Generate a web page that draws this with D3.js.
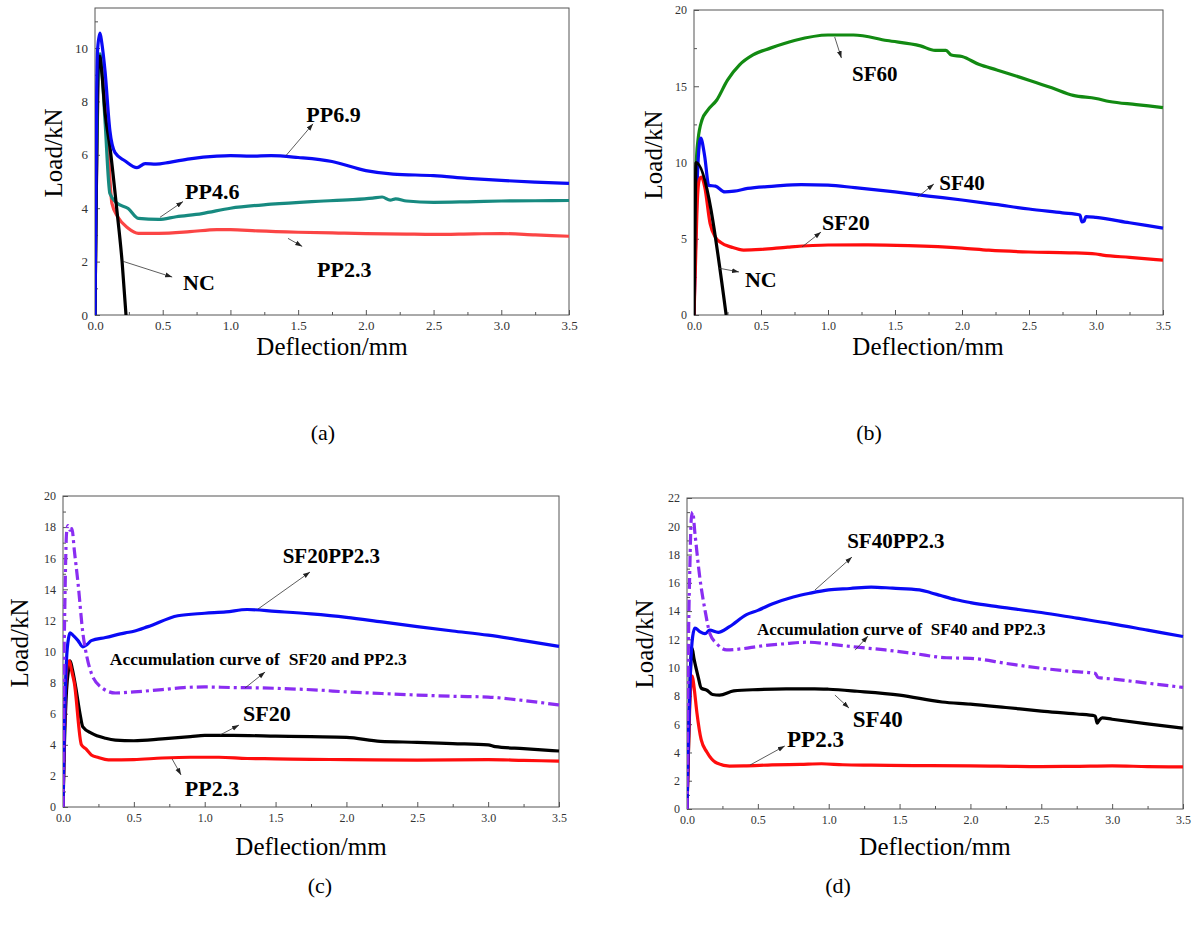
<!DOCTYPE html>
<html><head><meta charset="utf-8">
<script src="https://cdn.jsdelivr.net/npm/d3@7"></script>
<style>
body{margin:0;background:#fff}
svg{display:block}
text{font-family:"Liberation Serif","Times New Roman",serif}
</style>
</head><body>
<svg id="chart" width="1195" height="940"></svg>
<script>
// ---------------- DATA (deflection mm, load kN) ----------------
const xTicksMajor = [0,0.5,1.0,1.5,2.0,2.5,3.0,3.5];
const xTicksMinor = [0.25,0.75,1.25,1.75,2.25,2.75,3.25];

// Panel (a)
const a_PP23 = [[0,0],[0.008,4],[0.02,8],[0.035,9.6],[0.05,9.3],[0.07,8.2],[0.09,6.9],[0.125,4.18],[0.17,3.66],[0.245,3.25],[0.32,3.06],[0.47,3.06],[0.7,3.12],[0.9,3.2],[1.0,3.2],[1.2,3.15],[1.5,3.1],[1.8,3.07],[2.0,3.05],[2.3,3.03],[2.5,3.02],[2.8,3.04],[3.0,3.05],[3.25,3.0],[3.5,2.95]];
const a_PP46 = [[0,0],[0.008,4],[0.02,8.2],[0.037,9.78],[0.05,9.2],[0.074,7.28],[0.11,4.55],[0.16,4.2],[0.245,3.99],[0.32,3.62],[0.47,3.58],[0.6,3.68],[0.79,3.8],[1.0,4.0],[1.3,4.15],[1.6,4.25],[1.9,4.32],[2.05,4.38],[2.12,4.42],[2.18,4.3],[2.22,4.35],[2.3,4.27],[2.5,4.22],[2.75,4.24],[3.0,4.27],[3.25,4.28],[3.5,4.29]];
const a_NC = [[0,0],[0.01,5],[0.02,9],[0.035,9.7],[0.05,9.1],[0.074,7.6],[0.11,6.3],[0.16,4.0],[0.2,2.0],[0.229,0]];
const a_PP69 = [[0,0],[0.006,4],[0.012,8],[0.02,10.0],[0.037,10.56],[0.05,10.2],[0.074,9.14],[0.11,6.9],[0.148,6.08],[0.22,5.78],[0.31,5.52],[0.37,5.67],[0.45,5.65],[0.55,5.72],[0.7,5.85],[0.9,5.95],[1.0,5.97],[1.15,5.95],[1.3,5.97],[1.5,5.9],[1.75,5.75],[2.0,5.41],[2.2,5.28],[2.5,5.22],[2.75,5.12],[3.0,5.04],[3.25,4.98],[3.5,4.93]];

// Panel (b)
const b_SF60 = [[0,0],[0.005,4],[0.012,8.5],[0.02,10.5],[0.03,11.48],[0.06,12.8],[0.1,13.4],[0.17,14.1],[0.25,15.4],[0.34,16.4],[0.44,17.05],[0.57,17.5],[0.75,18.0],[1.0,18.36],[1.19,18.36],[1.44,18.0],[1.69,17.65],[1.8,17.35],[1.88,17.35],[1.92,17.05],[2.0,16.95],[2.13,16.42],[2.26,16.07],[2.5,15.4],[2.67,14.9],[2.83,14.4],[3.0,14.2],[3.1,14.0],[3.3,13.8],[3.5,13.6]];
const b_SF40 = [[0,0],[0.01,4],[0.025,9],[0.04,11.2],[0.05,11.6],[0.08,10.4],[0.11,8.5],[0.16,8.45],[0.23,8.07],[0.3,8.12],[0.4,8.3],[0.6,8.45],[0.8,8.55],[1.0,8.52],[1.2,8.35],[1.5,8.07],[1.75,7.8],[2.0,7.54],[2.25,7.25],[2.5,6.95],[2.75,6.7],[2.88,6.56],[2.895,6.1],[2.91,6.15],[2.925,6.45],[3.0,6.4],[3.25,6.05],[3.5,5.7]];
const b_SF20 = [[0,0],[0.01,3],[0.025,7.5],[0.04,8.9],[0.055,9.05],[0.08,8.4],[0.12,6.0],[0.16,5.1],[0.2,4.75],[0.28,4.45],[0.37,4.26],[0.5,4.3],[0.7,4.45],[1.0,4.59],[1.3,4.6],[1.6,4.55],[2.0,4.39],[2.2,4.25],[2.5,4.13],[2.8,4.08],[3.0,4.0],[3.05,3.93],[3.25,3.78],[3.5,3.6]];
const b_NC = [[0,0],[0.008,6],[0.015,10.0],[0.24,0]];

// Panel (c)
const c_SF20 = [[0,0],[0.01,4],[0.025,7.5],[0.04,8.9],[0.05,9.4],[0.065,8.9],[0.09,7.7],[0.12,6.0],[0.14,5.15],[0.2,4.75],[0.3,4.42],[0.37,4.3],[0.5,4.26],[0.7,4.38],[0.9,4.52],[1.0,4.6],[1.2,4.6],[1.5,4.56],[1.75,4.52],[2.0,4.48],[2.24,4.22],[2.5,4.16],[2.75,4.08],[3.0,4.0],[3.05,3.88],[3.25,3.75],[3.5,3.6]];
const c_PP23 = [[0,0],[0.008,4],[0.02,8],[0.035,9.3],[0.045,9.4],[0.06,8.8],[0.08,7.97],[0.13,4.0],[0.16,3.75],[0.2,3.35],[0.25,3.18],[0.32,3.03],[0.5,3.05],[0.7,3.15],[0.9,3.2],[1.1,3.2],[1.3,3.12],[1.5,3.1],[1.75,3.06],[2.0,3.05],[2.5,3.02],[3.0,3.05],[3.25,3.0],[3.5,2.95]];
const c_SF20PP23 = [[0,0],[0.01,5],[0.025,9.5],[0.04,10.9],[0.05,11.2],[0.075,11.0],[0.106,10.7],[0.14,10.3],[0.17,10.45],[0.2,10.7],[0.3,10.9],[0.44,11.2],[0.5,11.3],[0.6,11.6],[0.81,12.3],[1.0,12.46],[1.15,12.55],[1.3,12.7],[1.5,12.58],[1.75,12.42],[2.0,12.2],[2.25,11.9],[2.5,11.6],[2.75,11.32],[3.0,11.05],[3.25,10.7],[3.5,10.33]];
const c_Accum = [[0,0],[0.006,8],[0.015,14],[0.025,17.6],[0.035,18.1],[0.05,17.8],[0.063,17.9],[0.08,16.5],[0.106,14.4],[0.14,11.2],[0.17,9.6],[0.2,8.6],[0.27,7.7],[0.37,7.33],[0.5,7.4],[0.7,7.55],[0.85,7.68],[1.0,7.72],[1.2,7.68],[1.4,7.66],[1.6,7.6],[1.8,7.52],[2.0,7.4],[2.25,7.3],[2.5,7.2],[2.75,7.12],[3.0,7.07],[3.2,6.9],[3.5,6.56]];

// Panel (d)
const d_SF40 = [[0,0],[0.01,4],[0.022,9],[0.035,11.4],[0.05,10.6],[0.08,9.3],[0.1,8.55],[0.14,8.4],[0.18,8.1],[0.23,8.06],[0.33,8.35],[0.5,8.45],[0.7,8.5],[0.9,8.5],[1.0,8.47],[1.2,8.33],[1.5,8.06],[1.8,7.57],[2.0,7.42],[2.25,7.18],[2.5,6.93],[2.75,6.72],[2.88,6.58],[2.895,6.07],[2.91,6.3],[2.93,6.45],[3.0,6.35],[3.25,6.02],[3.5,5.72]];
const d_PP23 = [[0,0],[0.01,4],[0.02,7.5],[0.03,9.0],[0.038,9.4],[0.05,8.6],[0.07,6.8],[0.1,4.9],[0.14,4.03],[0.21,3.25],[0.3,3.04],[0.4,3.05],[0.6,3.12],[0.8,3.16],[0.95,3.2],[1.1,3.13],[1.3,3.1],[1.6,3.07],[2.0,3.05],[2.5,3.0],[2.75,3.02],[3.0,3.05],[3.25,3.0],[3.5,2.98]];
const d_SF40PP23 = [[0,0],[0.01,5],[0.025,10],[0.04,12.2],[0.056,12.8],[0.09,12.55],[0.127,12.4],[0.16,12.65],[0.22,12.5],[0.3,12.9],[0.42,13.75],[0.5,14.05],[0.6,14.5],[0.75,15.0],[0.87,15.27],[1.0,15.5],[1.15,15.6],[1.3,15.7],[1.45,15.62],[1.64,15.5],[1.72,15.3],[1.79,15.1],[1.9,14.8],[2.0,14.6],[2.2,14.3],[2.5,13.9],[2.75,13.5],[3.0,13.1],[3.25,12.65],[3.5,12.2]];
const d_Accum = [[0,0],[0.006,8],[0.012,13],[0.02,17],[0.03,20.5],[0.04,21.0],[0.056,19.5],[0.09,16.4],[0.127,14.07],[0.162,12.4],[0.21,11.7],[0.28,11.25],[0.4,11.35],[0.5,11.5],[0.7,11.7],[0.85,11.8],[1.0,11.67],[1.2,11.45],[1.4,11.25],[1.6,11.0],[1.83,10.7],[2.0,10.66],[2.25,10.3],[2.49,9.97],[2.7,9.75],[2.88,9.6],[2.9,9.3],[3.0,9.2],[3.25,8.9],[3.5,8.6]];

// ---------------- LAYOUT / STYLE ----------------
const BLUE = "#0a0af5", RED = "#ff0d0d", LRED = "#fb4545", TEAL = "#178a80",
      GREEN = "#128a12", PURPLE = "#8a2df2", BLACK = "#000";

const panels = [
 { cap:"(a)", capX:323, capY:440, l:95, r:569, t:8, b:315, yMax:11.5,
   yMajor:[0,2,4,6,8,10], yMinor:[1,3,5,7,9,11], tickFont:13,
   yLab:{x:62, y:153}, xLab:{x:332, y:355},
   series:[{d:a_PP23,c:LRED},{d:a_PP46,c:TEAL},{d:a_NC,c:BLACK},{d:a_PP69,c:BLUE}],
   notes:[
    {t:"PP6.9", x:1.56, y:7.24, fs:22, a:[1.41,5.97,1.61,7.16]},
    {t:"PP4.6", x:0.665, y:4.33, fs:22, a:[0.48,3.66,0.65,4.25]},
    {t:"PP2.3", x:1.64, y:1.42, fs:22, a:[1.425,2.87,1.53,2.57]},
    {t:"NC", x:0.65, y:0.93, fs:22, a:[0.207,2.01,0.57,1.42]}
   ]},
 { cap:"(b)", capX:869, capY:440, l:694, r:1163, t:10, b:315, yMax:20,
   yMajor:[0,5,10,15,20], yMinor:[2.5,7.5,12.5,17.5], tickFont:12,
   yLab:{x:662, y:155}, xLab:{x:928, y:355},
   series:[{d:b_SF60,c:GREEN},{d:b_SF40,c:BLUE},{d:b_SF20,c:RED},{d:b_NC,c:BLACK}],
   notes:[
    {t:"SF60", x:1.18, y:15.34, fs:21, a:[1.05,18.23,1.10,16.85]},
    {t:"SF40", x:1.83, y:8.2, fs:21, a:[1.67,7.74,1.79,8.59]},
    {t:"SF20", x:0.955, y:5.57, fs:22, a:[0.806,4.46,0.948,5.44]},
    {t:"NC", x:0.38, y:1.84, fs:22, a:[0.18,3.08,0.336,2.82]}
   ]},
 { cap:"(c)", capX:320, capY:893, l:63, r:559, t:496, b:807, yMax:20,
   yMajor:[0,2,4,6,8,10,12,14,16,18,20], yMinor:[1,3,5,7,9,11,13,15,17,19], tickFont:12,
   yLab:{x:28, y:643}, xLab:{x:311, y:855},
   series:[{d:c_SF20,c:BLACK},{d:c_PP23,c:RED},{d:c_SF20PP23,c:BLUE},{d:c_Accum,c:PURPLE,dash:true}],
   notes:[
    {t:"SF20PP2.3", x:1.55, y:15.7, fs:21, a:[1.376,12.73,1.743,15.11]},
    {t:"Accumulation curve of  SF20 and PP2.3", x:0.33, y:9.13, fs:17.5, a:[1.284,7.65,1.426,8.68]},
    {t:"SF20", x:1.27, y:5.53, fs:22, a:[1.108,4.63,1.242,5.27]},
    {t:"PP2.3", x:0.86, y:0.71, fs:22, a:[0.77,3.09,0.833,2.06]}
   ]},
 { cap:"(d)", capX:838, capY:893, l:687, r:1183, t:498, b:809, yMax:22,
   yMajor:[0,2,4,6,8,10,12,14,16,18,20,22], yMinor:[1,3,5,7,9,11,13,15,17,19,21], tickFont:12,
   yLab:{x:653, y:644}, xLab:{x:935, y:855},
   series:[{d:d_SF40,c:BLACK},{d:d_PP23,c:RED},{d:d_SF40PP23,c:BLUE},{d:d_Accum,c:PURPLE,dash:true}],
   notes:[
    {t:"SF40PP2.3", x:1.13, y:18.46, fs:21, a:[0.903,15.49,1.164,17.82]},
    {t:"Accumulation curve of  SF40 and PP2.3", x:0.494, y:12.3, fs:17, a:[1.186,11.24,1.277,12.23]},
    {t:"SF40", x:1.17, y:5.8, fs:23, a:[1.044,8.06,1.143,7.14]},
    {t:"PP2.3", x:0.706, y:4.38, fs:23, a:[0.445,3.11,0.69,4.46]}
   ]}
];

// ---------------- DRAW ----------------
const svg = d3.select("#chart");
const defs = svg.append("defs");
defs.append("marker").attr("id","arr").attr("viewBox","0 0 10 10")
  .attr("refX",10).attr("refY",5).attr("markerWidth",7).attr("markerHeight",7)
  .attr("markerUnits","userSpaceOnUse").attr("orient","auto")
  .append("path").attr("d","M0,1.5 L10,5 L0,8.5 Z").attr("fill","#222");

panels.forEach((p,i) => {
  const x = d3.scaleLinear().domain([0,3.5]).range([p.l,p.r]);
  const y = d3.scaleLinear().domain([0,p.yMax]).range([p.b,p.t]);
  const g = svg.append("g");
  const clipId = "clip"+i;
  defs.append("clipPath").attr("id",clipId).append("rect")
    .attr("x",p.l).attr("y",p.t-4).attr("width",p.r-p.l+2).attr("height",p.b-p.t+4);

  // axes (inward ticks)
  const fmtX = d3.format(".1f");
  g.append("g").attr("transform",`translate(0,${p.b})`)
    .call(d3.axisBottom(x).tickValues(xTicksMajor).tickSize(-5).tickPadding(6).tickFormat(fmtX));
  g.append("g").attr("transform",`translate(0,${p.b})`)
    .call(d3.axisBottom(x).tickValues(xTicksMinor).tickSize(-3).tickFormat(""));
  g.append("g").attr("transform",`translate(${p.l},0)`)
    .call(d3.axisLeft(y).tickValues(p.yMajor).tickSize(-5).tickPadding(7).tickFormat(d3.format("d")));
  g.append("g").attr("transform",`translate(${p.l},0)`)
    .call(d3.axisLeft(y).tickValues(p.yMinor).tickSize(-3).tickFormat(""));
  g.selectAll(".domain").remove();
  g.selectAll(".tick line").attr("stroke","#555");
  g.selectAll(".tick text").attr("fill","#333").style("font-size",p.tickFont+"px")
    .style("font-family",'"Liberation Serif","Times New Roman",serif');

  // frame
  g.append("rect").attr("x",p.l).attr("y",p.t).attr("width",p.r-p.l).attr("height",p.b-p.t)
    .attr("fill","none").attr("stroke","#555").attr("stroke-width",1);

  // curves
  const line = d3.line().x(d=>x(d[0])).y(d=>y(d[1])).curve(d3.curveMonotoneX);
  const cg = g.append("g").attr("clip-path",`url(#${clipId})`);
  p.series.forEach(s => {
    cg.append("path").attr("d",line(s.d)).attr("fill","none")
      .attr("stroke",s.c).attr("stroke-width",3.2)
      .attr("stroke-linejoin","round")
      .attr("stroke-dasharray", s.dash ? "11,4,3,4" : null);
  });

  // annotations
  p.notes.forEach(n => {
    g.append("line").attr("x1",x(n.a[0])).attr("y1",y(n.a[1]))
      .attr("x2",x(n.a[2])).attr("y2",y(n.a[3]))
      .attr("stroke","#333").attr("stroke-width",0.8).attr("marker-end","url(#arr)");
    g.append("text").attr("x",x(n.x)).attr("y",y(n.y)).text(n.t)
      .attr("font-weight","bold").style("font-size",n.fs+"px").attr("fill","#000")
      .style("white-space","pre").attr("xml:space","preserve");
  });

  // axis titles
  g.append("text").attr("transform",`translate(${p.yLab.x},${p.yLab.y}) rotate(-90)`)
    .attr("text-anchor","middle").style("font-size","25px").text("Load/kN");
  g.append("text").attr("x",p.xLab.x).attr("y",p.xLab.y).attr("text-anchor","middle")
    .style("font-size","25px").text("Deflection/mm");

  // caption
  svg.append("text").attr("x",p.capX).attr("y",p.capY).attr("text-anchor","middle")
    .style("font-size","22px").text(p.cap);
});
</script>
</body></html>
